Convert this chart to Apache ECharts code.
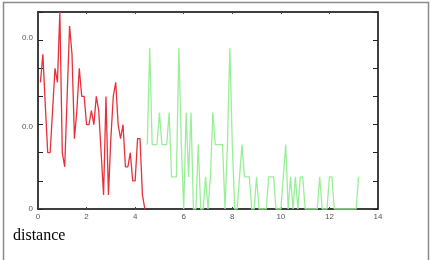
<!DOCTYPE html>
<html>
<head>
<meta charset="utf-8">
<script src="https://cdn.jsdelivr.net/npm/echarts@6/dist/echarts.min.js"></script>
<style>
html,body{margin:0;padding:0;background:#fff;}
#chart{width:431px;height:260px;}
</style>
</head>
<body>
<div id="chart"></div>
<script>
var xTicks = [0, 2, 4, 6, 8, 10, 12, 14];
var yTickLabels = ['0', '', '', '0.0', '', '', '0.0', ''];

var redDistance = [0.1,0.2,0.3,0.4,0.5,0.6,0.7,0.8,0.9,1.0,1.1,1.2,1.3,1.4,1.5,1.6,1.7,1.8,1.9,2.0,2.1,2.2,2.3,2.4,2.5,2.6,2.7,2.8,2.9,3.0,3.1,3.2,3.3,3.4,3.5,3.6,3.7,3.8,3.9,4.0,4.1,4.2,4.3,4.4];
var redValues = [0.045,0.055,0.037,0.02,0.02,0.035,0.05,0.045,0.07,0.02,0.015,0.04,0.065,0.055,0.025,0.035,0.05,0.04,0.04,0.03,0.03,0.035,0.03,0.04,0.035,0.02,0.005,0.04,0.005,0.025,0.04,0.045,0.03,0.025,0.03,0.015,0.015,0.02,0.01,0.01,0.025,0.025,0.005,0];

var greenDistance = [4.5,4.6,4.7,4.8,4.9,5.0,5.1,5.2,5.3,5.4,5.5,5.6,5.7,5.8,5.9,6.0,6.1,6.2,6.3,6.4,6.5,6.6,6.7,6.8,6.9,7.0,7.1,7.2,7.3,7.4,7.5,7.6,7.7,7.8,7.9,8.0,8.1,8.2,8.3,8.4,8.5,8.6,8.7,8.8,8.9,9.0,9.1,9.2,9.3,9.4,9.5,9.6,9.7,9.8,9.9,10.0,10.1,10.2,10.3,10.4,10.5,10.6,10.7,10.8,10.9,11.0,11.1,11.2,11.3,11.4,11.5,11.6,11.7,11.8,11.9,12.0,12.1,12.2,12.3,12.4,12.5,12.6,12.7,12.8,12.9,13.0,13.1,13.2];
var greenValues = [0.0229,0.0572,0.0229,0.0229,0.0229,0.0343,0.0229,0.0229,0.0229,0.0343,0.0114,0.0114,0.0114,0.0572,0.0229,0,0.0343,0.0114,0.0343,0,0,0.0229,0,0,0.0114,0,0.0114,0.0343,0.0229,0.0229,0.0229,0.0229,0,0.0229,0.0572,0.0229,0,0,0.0114,0.0229,0.0114,0.0114,0.0114,0,0,0.0114,0,0,0,0,0.0114,0.0114,0.0114,0,0,0,0.0114,0.0229,0,0.0114,0,0.0114,0,0.0114,0.0114,0,0,0,0,0,0,0.0114,0,0,0,0.0114,0.0114,0,0,0,0,0,0,0,0,0,0,0.0114];

function pairs(xs, ys) {
  var out = [];
  for (var i = 0; i < xs.length; i++) out.push([xs[i], ys[i]]);
  return out;
}

var labelFont = '"Liberation Sans", Arial, sans-serif';

function xAxisCfg(pos, showLabels) {
  return {
    type: 'value', position: pos, min: xTicks[0], max: xTicks[xTicks.length - 1], interval: 2,
    axisLine: { show: true, onZero: false, lineStyle: { color: '#000', width: 1.5 } },
    axisTick: { show: true, inside: true, length: 2, lineStyle: { color: '#444', width: 1 } },
    axisLabel: { show: showLabels, fontSize: 8, color: '#555', margin: 4, fontFamily: labelFont,
      showMinLabel: true, showMaxLabel: true },
    splitLine: { show: false }
  };
}
function yAxisCfg(pos, showLabels) {
  return {
    type: 'value', position: pos, min: 0, max: 0.07, interval: 0.01,
    axisLine: { show: true, onZero: false, lineStyle: { color: '#000', width: 1.5 } },
    axisTick: { show: true, inside: true, length: 5, lineStyle: { color: '#222', width: 1 } },
    axisLabel: { show: showLabels, fontSize: 8, color: '#555', margin: 5, fontFamily: labelFont,
      showMinLabel: true, showMaxLabel: true,
      formatter: function (v) {
        var i = Math.round(v * 100);
        var t = yTickLabels[i] || '';
        if (!t) return '';
        if (i === 6) return '{hi|' + t + '}';
        if (i === 3) return '{lo|' + t + '}';
        return t;
      },
      rich: {
        hi: { fontSize: 8, color: '#555', fontFamily: labelFont, padding: [0, 0, 5, 0] },
        lo: { fontSize: 8, color: '#555', fontFamily: labelFont, padding: [5, 0, 0, 0] }
      }
    },
    splitLine: { show: false }
  };
}

var chart = echarts.init(document.getElementById('chart'), null, { renderer: 'canvas' });
chart.setOption({
  animation: false,
  backgroundColor: '#fff',
  grid: { left: 38, top: 12, width: 340, height: 197, containLabel: false },
  xAxis: [xAxisCfg('bottom', true), xAxisCfg('top', false)],
  yAxis: [yAxisCfg('left', true), yAxisCfg('right', false)],
  series: [
    { type: 'line', xAxisIndex: 0, yAxisIndex: 0, data: pairs(redDistance, redValues),
      showSymbol: false, symbol: 'none', clip: true,
      lineStyle: { color: '#e8303a', width: 1.3 }, itemStyle: { color: '#e8303a' } },
    { type: 'line', xAxisIndex: 0, yAxisIndex: 0, data: pairs(greenDistance, greenValues),
      showSymbol: false, symbol: 'none', clip: true,
      lineStyle: { color: '#9aee9a', width: 1.3 }, itemStyle: { color: '#9aee9a' } }
  ],
  graphic: [
    { type: 'rect', silent: true, shape: { x: 3.5, y: 2.5, width: 425, height: 270 },
      style: { fill: 'none', stroke: '#8a8a8a', lineWidth: 1.5 } },
    { type: 'text', silent: true, x: 13, y: 236,
      style: { text: 'distance', font: '16px "Liberation Serif", "Times New Roman", serif',
        fill: '#000', verticalAlign: 'middle', align: 'left' } }
  ]
});
</script>
</body>
</html>
